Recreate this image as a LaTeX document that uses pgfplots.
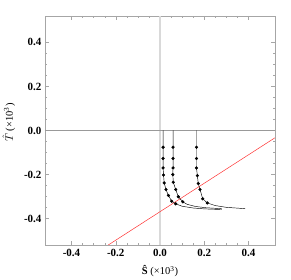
\documentclass[border=0pt]{standalone}
\usepackage{fontspec}
\setmainfont{Liberation Serif}
\usepackage{pgfplots}
\pgfplotsset{compat=1.18}
\begin{document}
\begin{tikzpicture}
\path[use as bounding box] (-45pt,-35pt) rectangle (246pt,245pt);
\begin{axis}[
  scale only axis, width=230pt, height=229pt,
  xmin=-0.52, xmax=0.52, ymin=-0.52, ymax=0.52,
  xtick={-0.4,-0.2,0,0.2,0.4}, ytick={-0.4,-0.2,0,0.2,0.4},
  minor tick num=3,
  tick align=inside,
  major tick length=4pt, minor tick length=2pt,
  axis line style={gray!70},
  tick style={gray!70, line width=0.4pt},
  xticklabel style={font=\bfseries\fontsize{11}{12}\selectfont, yshift=-1pt},
  yticklabel style={font=\bfseries\fontsize{11}{12}\selectfont},
  /pgf/number format/assume math mode=true,
  /pgf/number format/fixed, /pgf/number format/fixed zerofill,
  /pgf/number format/precision=1,
  xlabel={\textbf{Ŝ} (×10\textsuperscript{3})},
  ylabel={$\hat{T}$ (×10\textsuperscript{3})},
  label style={font=\fontsize{10.5}{12}\selectfont},
  xlabel style={yshift=-2pt},
  ylabel style={yshift=2pt, xshift=8pt},
  clip=true,
]
\addplot[gray!30, line width=1.4pt, forget plot] coordinates {(0,-0.52) (0,0.52)};
\addplot[gray!80, line width=0.5pt, forget plot] coordinates {(-0.52,0) (0.52,0)};
% red line
\addplot[red!80, line width=0.5pt] coordinates {(-0.234,-0.52) (0.52,-0.033)};
% curve 1
\addplot[black, line width=0.45pt] coordinates {(0.014,0) (0.014,-0.076) (0.014,-0.127) (0.014,-0.170) (0.016,-0.202) (0.019,-0.238) (0.027,-0.268) (0.038,-0.295) (0.053,-0.321) (0.071,-0.333) (0.10,-0.344) (0.15,-0.352) (0.2,-0.356) (0.279,-0.359)};
\addplot[only marks, mark=*, mark size=1.4pt, black] coordinates {(0.014,-0.076) (0.014,-0.127) (0.014,-0.170) (0.016,-0.202) (0.019,-0.238) (0.027,-0.268) (0.038,-0.295) (0.053,-0.321) (0.071,-0.333)};
% curve 2
\addplot[black, line width=0.45pt] coordinates {(0.059,0) (0.059,-0.076) (0.059,-0.127) (0.059,-0.170) (0.058,-0.200) (0.060,-0.235) (0.071,-0.268) (0.083,-0.301) (0.103,-0.324) (0.122,-0.335) (0.16,-0.345) (0.21,-0.351) (0.279,-0.355)};
\addplot[only marks, mark=*, mark size=1.4pt, black] coordinates {(0.059,-0.076) (0.059,-0.127) (0.059,-0.170) (0.058,-0.200) (0.060,-0.235) (0.071,-0.268) (0.083,-0.301) (0.103,-0.324)};
% curve 3
\addplot[black, line width=0.45pt] coordinates {(0.165,0) (0.165,-0.076) (0.165,-0.127) (0.165,-0.170) (0.169,-0.205) (0.173,-0.241) (0.181,-0.268) (0.193,-0.310) (0.214,-0.329) (0.25,-0.341) (0.30,-0.349) (0.385,-0.355)};
\addplot[only marks, mark=*, mark size=1.4pt, black] coordinates {(0.165,-0.076) (0.165,-0.127) (0.165,-0.170) (0.169,-0.205) (0.173,-0.241) (0.181,-0.268) (0.193,-0.310) (0.214,-0.329)};
\end{axis}
\end{tikzpicture}
\end{document}
